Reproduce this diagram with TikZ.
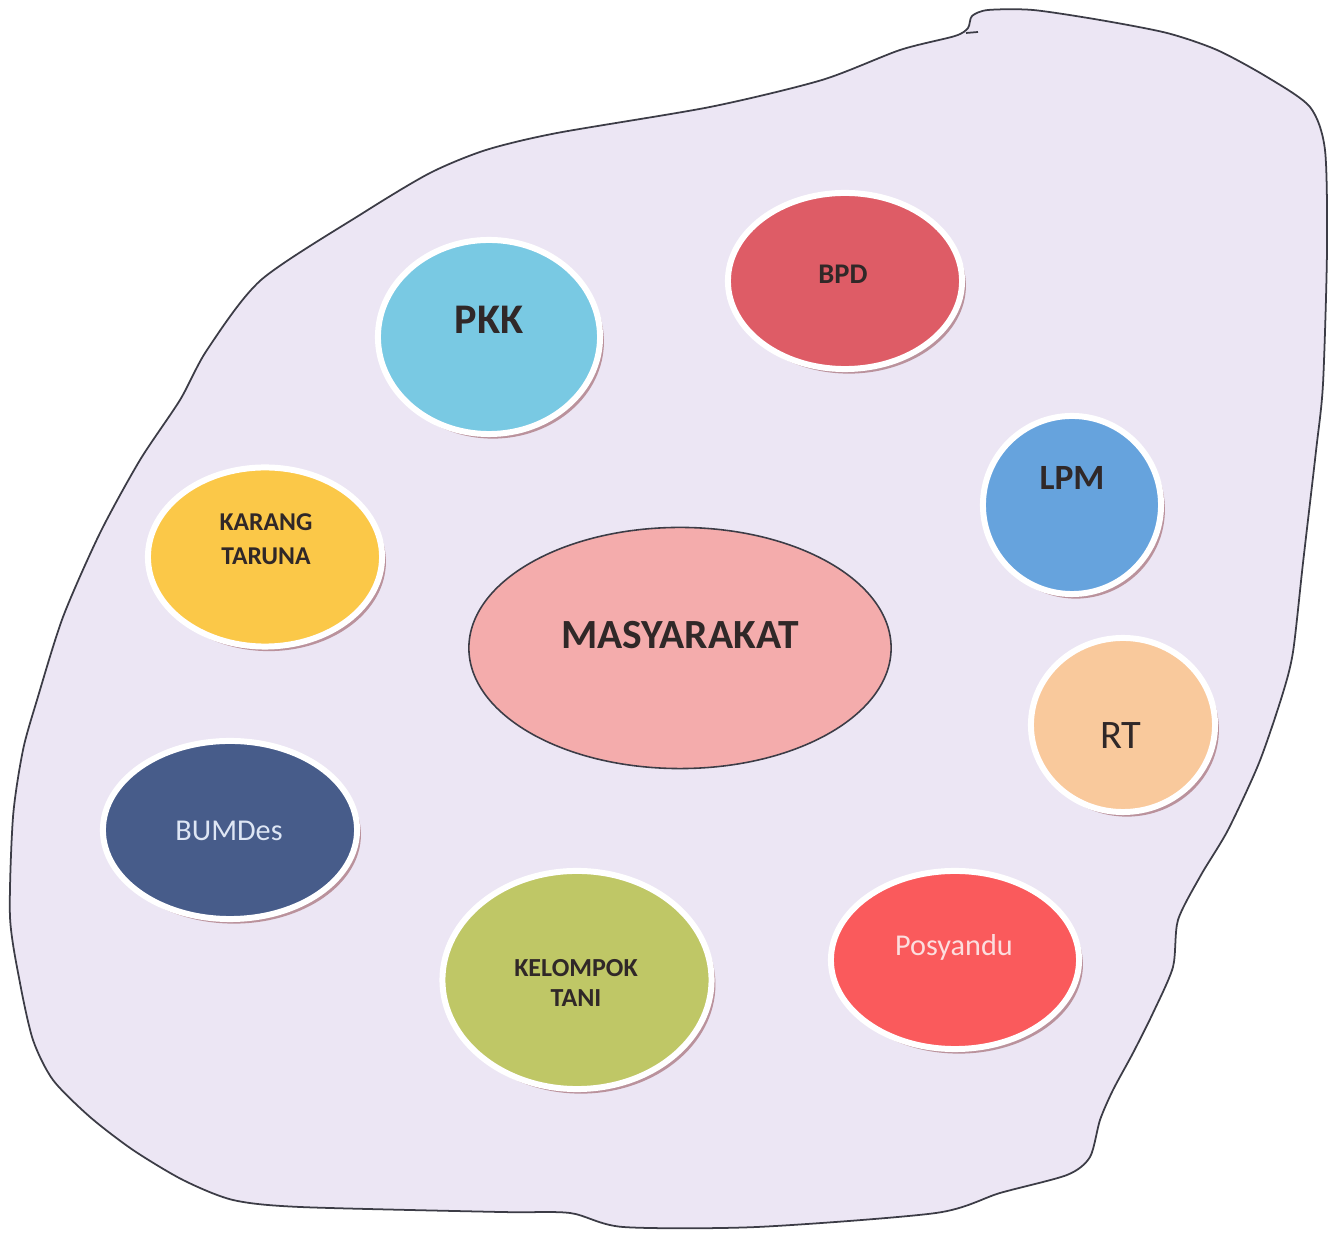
\documentclass[tikz,border=0pt]{standalone}
\usepackage{fontspec}
\setmainfont{Carlito}
\usetikzlibrary{shapes.geometric}
\usetikzlibrary{shadows}
\definecolor{blobfill}{RGB}{236,230,244}
\definecolor{blobline}{RGB}{60,60,70}
\definecolor{shadowpink}{RGB}{186,146,156}
\definecolor{inkdark}{RGB}{48,40,40}
\definecolor{pkkblue}{RGB}{121,201,227}
\definecolor{bpdred}{RGB}{222,92,102}
\definecolor{lpmblue}{RGB}{102,163,221}
\definecolor{ktyellow}{RGB}{251,200,72}
\definecolor{masypink}{RGB}{244,172,172}
\definecolor{rtpeach}{RGB}{249,201,156}
\definecolor{bumnavy}{RGB}{71,92,138}
\definecolor{taniolive}{RGB}{191,199,102}
\definecolor{posyred}{RGB}{250,90,92}
\tikzset{%
  bubble/.style={ellipse, draw=white, line width=1.7pt, inner sep=0pt,
                 drop shadow={shadow xshift=1.1pt, shadow yshift=-1.3pt,
                              fill=shadowpink, opacity=1}},
  lbl/.style={text=inkdark, font=\bfseries, align=center, inner sep=0pt,
              text depth=0pt},
}
\begin{document}
\begin{tikzpicture}[x=0.01cm,y=-0.01cm]
  \fill[white] (0,0) rectangle (1332,1234);
  \useasboundingbox (0,0) rectangle (1332,1234);
  \draw[fill=blobfill, draw=blobline, line width=0.5pt]
    plot[smooth cycle, tension=0.45] coordinates {
      (955,36) (968,28) (972,16) (988,10) (1033,10) (1100,20) (1167,33)
      (1217,50) (1267,77) (1310,107) (1325,150) (1327,250) (1323,384)
      (1316,451) (1303,563) (1293,652) (1282,696) (1259,763) (1228,830)
      (1201,875) (1178,920) (1173,967) (1153,1013) (1133,1053) (1113,1090)
      (1100,1120) (1090,1157) (1067,1175) (1000,1193) (936,1213) (757,1227)
      (623,1227) (570,1213) (500,1212) (300,1207) (233,1200) (183,1180)
      (133,1150) (90,1117) (53,1080) (33,1040) (20,983) (10,917) (13,817)
      (23,750) (37,700) (63,617) (100,533) (140,460) (180,400) (207,350)
      (261,280) (363,213) (430,173) (486,150) (557,133) (710,107) (822,80)
      (900,50)};
  \coordinate (hook) at (966,33);
  \coordinate (tail) at (978,32);
  \draw[blobline, line width=0.5pt] (hook) -- (tail);

  \node[bubble, fill=pkkblue, minimum width=2.22cm, minimum height=1.94cm] (pkk) at (489,337) {};
  \node[bubble, fill=bpdred, minimum width=2.34cm, minimum height=1.76cm] (bpd) at (845,281) {};
  \node[bubble, fill=lpmblue, minimum width=1.78cm, minimum height=1.78cm] (lpm) at (1072,505) {};
  \node[bubble, fill=ktyellow, minimum width=2.34cm, minimum height=1.79cm] (kt) at (265,557) {};
  \node[bubble, fill=rtpeach, minimum width=1.84cm, minimum height=1.74cm] (rt) at (1123,725) {};
  \node[bubble, fill=bumnavy, minimum width=2.54cm, minimum height=1.78cm] (bum) at (230,830) {};
  \node[bubble, fill=taniolive, minimum width=2.69cm, minimum height=2.18cm] (tani) at (577,980) {};
  \node[bubble, fill=posyred, minimum width=2.48cm, minimum height=1.78cm] (posy) at (955,960) {};
  \node[ellipse, fill=masypink, draw=blobline, line width=0.45pt, inner sep=0pt,
        minimum width=4.22cm, minimum height=2.41cm] (masy) at (680,648) {};

  \node[lbl, font=\bfseries\fontsize{12}{14}\selectfont] (pkk-t) at (489,320) {PKK};
  \node[lbl, font=\bfseries\fontsize{8.1}{10}\selectfont] (bpd-t) at (843,274) {BPD};
  \node[lbl, font=\bfseries\fontsize{10.1}{12}\selectfont] (lpm-t) at (1072,478) {LPM};
  \node[lbl, font=\bfseries\fontsize{7.3}{9.7}\selectfont] (kt-t) at (266,539) {KARANG\\TARUNA};
  \node[lbl, font=\bfseries\fontsize{11.8}{14}\selectfont] (masy-t) at (680,635) {MASYARAKAT};
  \node[lbl, font=\fontsize{11.5}{13}\selectfont] (rt-t) at (1121,736) {RT};
  \node[lbl, text={rgb,255:red,222;green,230;blue,244}, font=\fontsize{8.6}{10}\selectfont] (bum-t) at (229,831) {BUMDes};
  \node[lbl, font=\bfseries\fontsize{7.4}{8.5}\selectfont] (tani-t) at (576,983) {KELOMPOK\\TANI};
  \node[lbl, text={rgb,255:red,252;green,222;blue,222}, font=\fontsize{8.6}{10}\selectfont] (posy-t) at (954,945) {Posyandu};
\end{tikzpicture}
\end{document}
